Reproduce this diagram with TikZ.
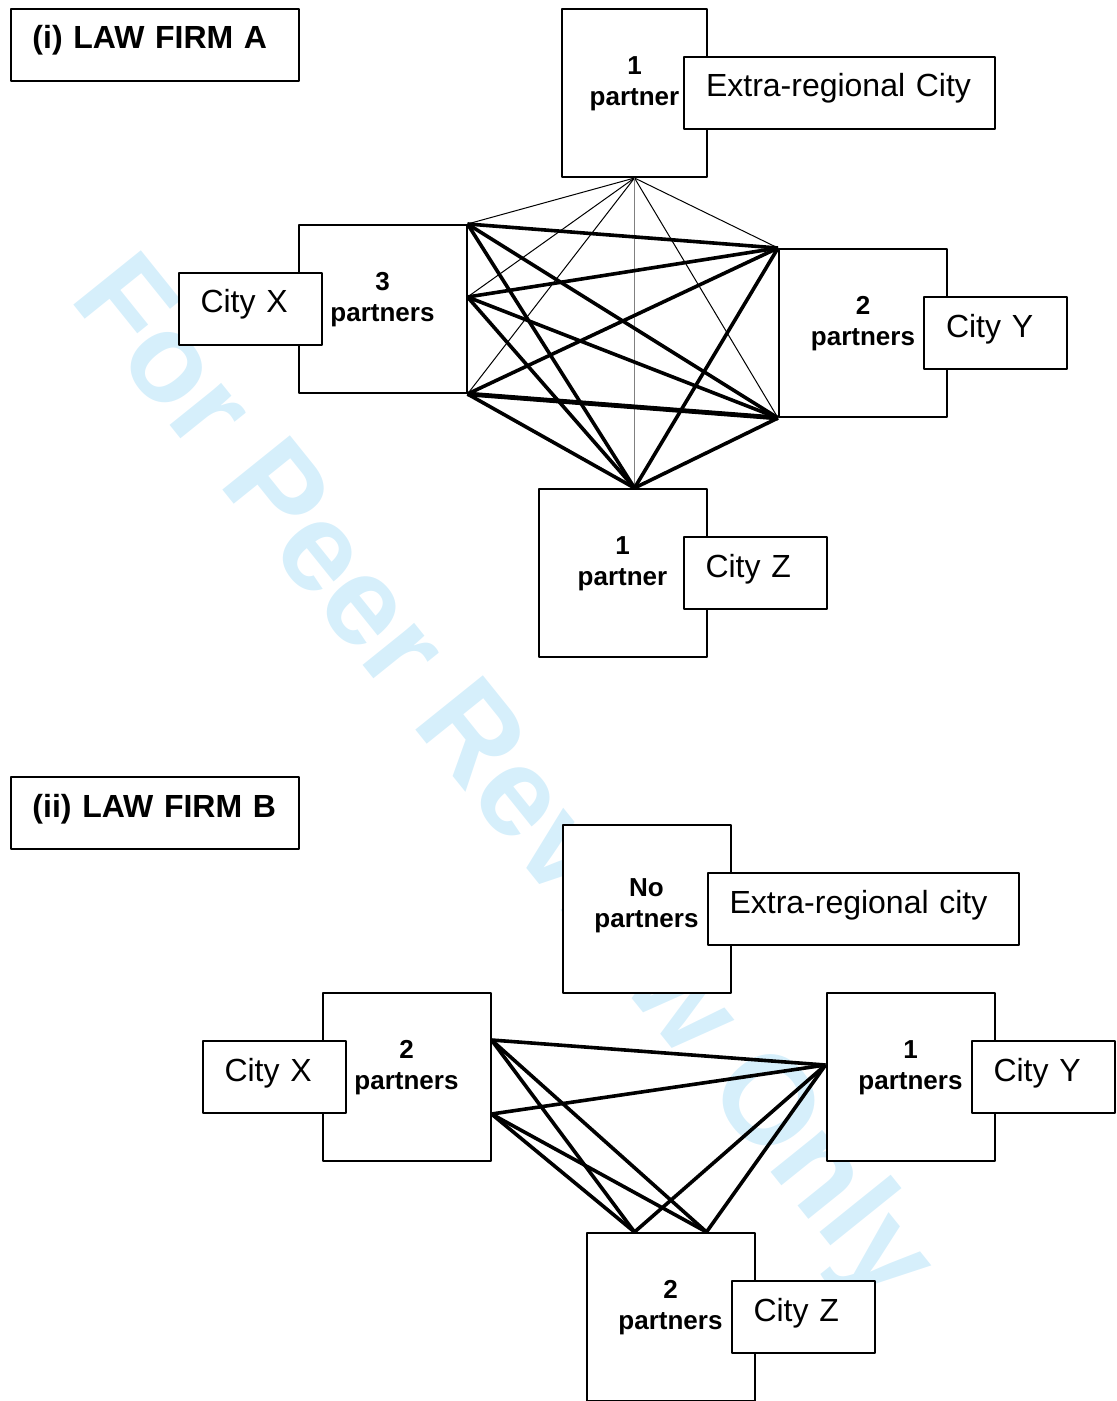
\documentclass[tikz,border=0pt]{standalone}
\usepackage{fontspec}
\setmainfont{Liberation Sans}
\usetikzlibrary{positioning}
\definecolor{stamp}{RGB}{214,239,251}

\begin{document}
\begin{tikzpicture}[x=0.5pt, y=-0.5pt, line join=round,
	seat/.style={draw, line width=1pt, fill=white, minimum width=84pt, minimum height=84pt, inner sep=0pt},
	place/.style={draw, line width=1pt, fill=white, minimum width=71.5pt, minimum height=36pt,
		inner xsep=11pt, inner ysep=0pt, text width=49.5pt, align=left,
		text height=11.5pt, text depth=7.5pt, font=\fontsize{16}{19}\selectfont},
	wide/.style={minimum width=155.5pt, text width=133.5pt},
	firm/.style={place, minimum width=144pt, text width=122pt, font=\fontsize{16}{19}\selectfont\bfseries},
	count/.style={align=center, inner sep=0pt, anchor=north, font=\fontsize{13}{15.5}\selectfont\bfseries},
	link/.style={line width=1.8pt},
	faint/.style={line width=0.5pt}]
		\useasboundingbox (0,0) rectangle (1117,1401);
		\node[rotate=-51.2, anchor=base west, inner sep=0pt, text=stamp,
		font=\fontsize{63}{63}\selectfont\bfseries] (mark) at (68,298) {For Peer Review Only}; % watermark
		
		% (i) law firm A
		\node[firm] (firmA) at (154.5,45) {(i) LAW FIRM A};
		\node[seat, minimum width=72.5pt] (erA) at (634.5,93) {};
		\node[place, wide, right=-12.5pt of erA] (erAcity) {Extra-regional City};
		\node[count] (erAn) at (erA |- erAcity.north) {1\\partner};
		\node[seat] (xA) at (382.5,309) {};
		\node[place, left=-12.5pt of xA] (xAcity) {City X};
		\node[count] (xAn) at (xA |- xAcity.north) {3\\partners};
		\node[seat] (yA) at (863,333) {};
		\node[place, right=-12.5pt of yA] (yAcity) {City Y};
		\node[count] (yAn) at (yA |- yAcity.north) {2\\partners};
		\node[seat] (zA) at (622.5,573) {};
		\node[place, right=-12.5pt of zA] (zAcity) {City Z};
		\node[count] (zAn) at (zA |- zAcity.north) {1\\partner};
		
		\coordinate (xAm) at ([yshift=6pt]xA.east);
		\coordinate (zAt) at (erA.south |- zA.north);
		\foreach \p in {xA.north east, xAm, xA.south east, yA.north west, yA.south west}
		\draw[faint] (erA.south) -- (\p); % thin links
		\draw[faint, gray] (erA.south) -- (zAt);
		\foreach \a in {xA.north east, xAm, xA.south east}
		\foreach \b in {yA.north west, yA.south west, zAt}
		\draw[link] (\a) -- (\b);
		\draw[link] (yA.north west) -- (zAt);
		\draw[link] (yA.south west) -- (zAt);
		\draw[link, line width=2.4pt] (xA.south east) -- (yA.south west);
		
		% (ii) law firm B
		\node[firm] (firmB) at (154.5,813) {(ii) LAW FIRM B};
		\node[seat] (erB) at (646.5,909) {};
		\node[place, wide, right=-12.5pt of erB] (erBcity) {Extra-regional city};
		\node[count] (erBn) at ([yshift=-3pt]erB |- erBcity.north) {No\\partners};
		\node[seat] (xB) at (406.5,1077) {};
		\node[place, left=-12.5pt of xB] (xBcity) {City X};
		\node[count] (xBn) at (xB |- xBcity.north) {2\\partners};
		\node[seat] (yB) at (910.5,1077) {};
		\node[place, right=-12.5pt of yB] (yBcity) {City Y};
		\node[count] (yBn) at (yB |- yBcity.north) {1\\partners};
		\node[seat] (zB) at (670.5,1317) {};
		\node[place, right=-12.5pt of zB] (zBcity) {City Z};
		\node[count] (zBn) at (zB |- zBcity.north) {2\\partners};
		
		\coordinate (xBt) at (xB.east |- xBcity.north);
		\coordinate (xBb) at (xB.east |- xBcity.south);
		\coordinate (yBm) at ([yshift=6pt]yB.west);
		\coordinate (zBl) at ([xshift=-18pt]zB.north);
		\coordinate (zBr) at ([xshift=18pt]zB.north);
		\foreach \a in {xBt, xBb}
		\foreach \b in {yBm, zBl, zBr}
		\draw[link] (\a) -- (\b);
		\draw[link] (yBm) -- (zBl);
		\draw[link] (yBm) -- (zBr);
		
	\end{tikzpicture}
\end{document}
